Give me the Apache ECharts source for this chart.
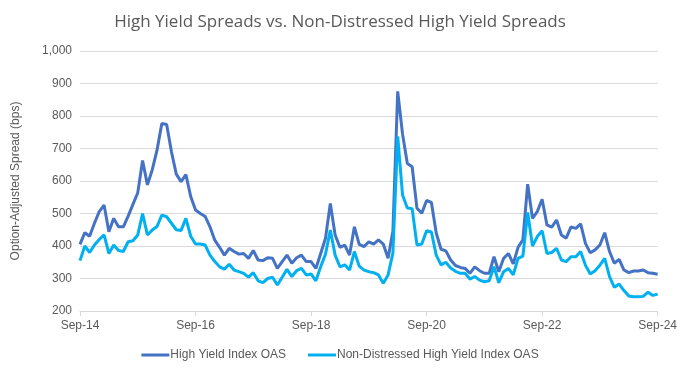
<!DOCTYPE html>
<html><head><meta charset="utf-8">
<script src="https://cdn.jsdelivr.net/npm/echarts@6/dist/echarts.min.js"></script>
<style>html,body{margin:0;padding:0;background:#fff}#c{width:680px;height:379px}</style>
</head><body><div id="c"></div>
<script>
var startYear = 2014, startMonth = 8; // Sep 2014
var monthNames = ['Jan','Feb','Mar','Apr','May','Jun','Jul','Aug','Sep','Oct','Nov','Dec'];
var tickLabels = ['Sep-14','Sep-16','Sep-18','Sep-20','Sep-22','Sep-24'];
var yTicks = [200,300,400,500,600,700,800,900,1000];
var highYield = [405,441,430,470,506,526,444,485,459,459,492,528,564,663,588,634,695,777,774,690,
621,598,620,552,511,500,491,459,418,396,372,393,383,375,377,362,386,357,355,364,
362,331,352,372,347,364,372,352,352,331,377,424,531,434,396,403,372,459,405,398,
413,406,419,406,362,445,876,745,654,644,516,501,540,534,440,390,385,357,340,334,
331,316,336,324,316,316,367,321,362,377,345,396,419,590,485,506,544,465,458,480,
434,424,459,454,468,408,379,388,403,441,383,347,359,326,318,323,323,326,318,316,313];
var nonDistressed = [355,400,380,403,420,434,377,403,386,383,413,416,434,500,434,449,460,495,490,470,
450,448,485,430,406,406,403,372,352,336,329,344,326,321,316,304,318,293,287,300,
304,280,304,328,306,324,331,311,314,293,336,375,449,372,336,342,326,383,338,326,
321,318,311,285,311,378,737,557,517,515,403,406,447,443,372,342,350,332,322,316,
316,298,306,295,290,293,336,287,321,331,311,362,369,503,400,429,447,377,380,393,
357,352,367,367,383,341,314,324,341,362,306,273,283,263,246,244,244,245,258,248,252];
var categories = [];
for (var i = 0; i < highYield.length; i++) {
  var m = (startMonth + i) % 12, y = startYear + Math.floor((startMonth + i) / 12);
  categories.push(monthNames[m] + '-' + String(y).slice(2));
}
var txt = '#595959', font = "'Liberation Sans', Arial, sans-serif";
var chart = echarts.init(document.getElementById('c'), null, {renderer:'canvas'});
chart.setOption({
  animation:false,
  backgroundColor:'#fff',
  title:{text:'High Yield Spreads vs. Non-Distressed High Yield Spreads',left:'center',top:9,
    textStyle:{color:txt,fontSize:17,fontWeight:'normal',fontFamily:"'Open Sans', sans-serif"}},
  grid:{left:80,right:20,top:51,bottom:68},
  legend:{bottom:13,left:'center',itemWidth:28,itemHeight:3,itemGap:22,icon:'rect',
    textStyle:{color:txt,fontSize:12,fontFamily:font,padding:[0,0,0,-4]},
    data:['High Yield Index OAS','Non-Distressed High Yield Index OAS']},
  xAxis:{type:'category',data:categories,boundaryGap:false,
    axisLine:{lineStyle:{color:'#d9d9d9',width:1}},
    axisTick:{show:true,interval:23,length:5,lineStyle:{color:'#d9d9d9'}},
    axisLabel:{interval:23,color:txt,fontSize:12,fontFamily:font,margin:9,
      formatter:function(v){return tickLabels.indexOf(v)>=0?v:'';}},
    splitLine:{show:false}},
  yAxis:{type:'value',min:yTicks[0],max:yTicks[yTicks.length-1],interval:100,
    name:'Option-Adjusted Spread (bps)',nameLocation:'middle',nameGap:58,
    nameTextStyle:{color:txt,fontSize:12,fontFamily:font},
    axisLine:{show:false},axisTick:{show:false},
    axisLabel:{color:txt,fontSize:12,fontFamily:font,margin:8,
      formatter:function(v){return v.toLocaleString('en-US');}},
    splitLine:{lineStyle:{color:'#d9d9d9',width:1}}},
  series:[
    {name:'High Yield Index OAS',type:'line',data:highYield,symbol:'none',
      lineStyle:{color:'#4472C4',width:3},itemStyle:{color:'#4472C4'}},
    {name:'Non-Distressed High Yield Index OAS',type:'line',data:nonDistressed,symbol:'none',
      lineStyle:{color:'#00B0F0',width:3},itemStyle:{color:'#00B0F0'}}
  ]
});
</script></body></html>
